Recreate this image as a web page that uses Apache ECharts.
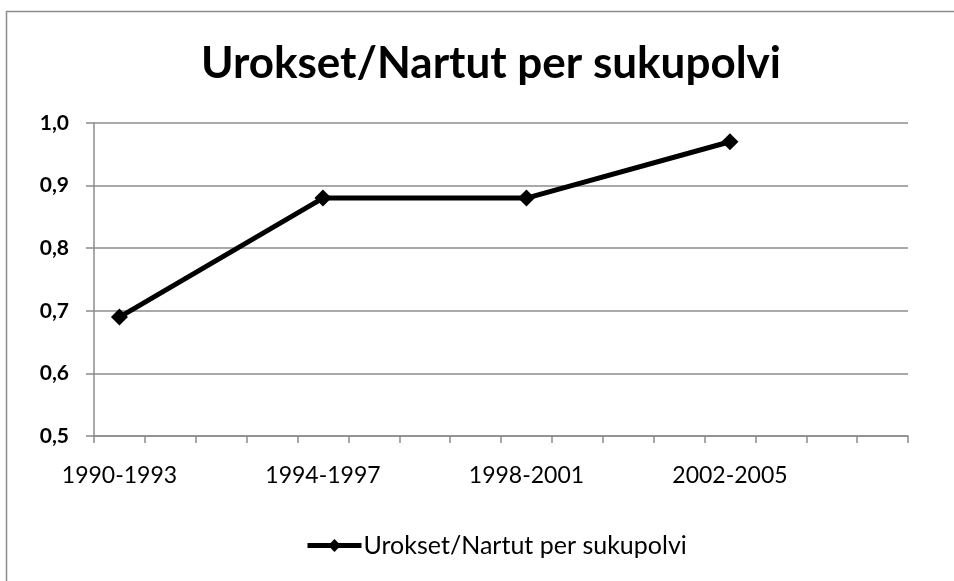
<!DOCTYPE html>
<html>
<head>
<meta charset="utf-8">
<script src="https://cdn.jsdelivr.net/npm/echarts@6/dist/echarts.min.js"></script>
<style>
  html, body { margin: 0; padding: 0; background: #fff; }
  #main { width: 954px; height: 581px; }
</style>
</head>
<body>
<div id="main"></div>
<script>
// vuodet (yksi kategoria per vuosi, otsikko joka neljännelle)
const years = ['1990', '1991', '1992', '1993', '1994', '1995', '1996', '1997',
  '1998', '1999', '2000', '2001', '2002', '2003', '2004', '2005']
const periodLabels = ['1990-1993', '1994-1997', '1998-2001', '2002-2005']
// arvot vain jakson ensimmäiselle vuodelle
const ratio = [0.69, null, null, null, 0.88, null, null, null,
  0.88, null, null, null, 0.97, null, null, null]
const seriesName = 'Urokset/Nartut per sukupolvi'

const font = 'Lato, "Open Sans", sans-serif'
const myChart = echarts.init(document.getElementById('main'))

myChart.setOption({
  animation: false,
  title: {
    text: 'Urokset/Nartut per sukupolvi',
    left: 486,
    textAlign: 'center',
    top: 37,
    textStyle: { fontFamily: font, fontSize: 44, fontWeight: 'bold', color: '#000' }
  },
  // ulkoreunus
  graphic: [{
    type: 'rect',
    shape: { x: 6.5, y: 11.5, width: 1000, height: 1000 },
    style: { fill: 'none', stroke: '#8c8c8c', lineWidth: 1.5 },
    silent: true
  }],
  legend: {
    data: [seriesName],
    left: 300,
    top: 528,
    itemWidth: 54,
    itemHeight: 16,
    itemGap: 2,
    lineStyle: { width: 5 },
    textStyle: { fontFamily: font, fontSize: 25, color: '#000', padding: [0, 0, 0, -3] }
  },
  grid: { left: 94, right: 46, top: 123, bottom: 145 },
  xAxis: {
    type: 'category',
    data: years,
    boundaryGap: true,
    axisLine: { lineStyle: { color: '#8c8c8c', width: 1.5 } },
    axisTick: { show: true, interval: 0, alignWithLabel: false, length: 7, lineStyle: { color: '#8c8c8c', width: 1.5 } },
    axisLabel: {
      interval: 3,
      margin: 28,
      fontFamily: font,
      fontSize: 23,
      color: '#000',
      formatter: (v, i) => periodLabels[i / 4]
    }
  },
  yAxis: {
    type: 'value',
    min: 0.5,
    max: 1.0,
    interval: 0.1,
    axisLine: { show: true, lineStyle: { color: '#8c8c8c', width: 1.5 } },
    axisTick: { show: true, length: 8, lineStyle: { color: '#8c8c8c', width: 1.5 } },
    splitLine: { lineStyle: { color: '#8c8c8c', width: 1.5 } },
    axisLabel: {
      margin: 25,
      fontFamily: font,
      fontSize: 21,
      fontWeight: 'bold',
      color: '#000',
      formatter: v => v.toFixed(1).replace('.', ',')
    }
  },
  series: [{
    name: seriesName,
    type: 'line',
    data: ratio,
    connectNulls: true,
    symbol: 'diamond',
    symbolSize: 17,
    color: '#000',
    lineStyle: { color: '#000', width: 5 },
    itemStyle: { color: '#000' }
  }]
})
</script>
</body>
</html>
